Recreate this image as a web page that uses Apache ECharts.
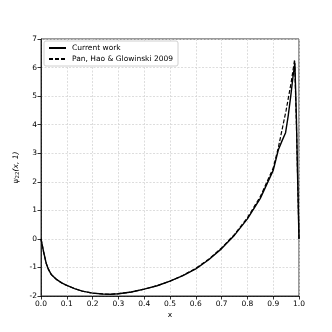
<!DOCTYPE html>
<html><head><meta charset="utf-8">
<script src="https://cdn.jsdelivr.net/npm/echarts@6/dist/echarts.min.js"></script>
<style>html,body{margin:0;padding:0;background:#fff}#c{width:332px;height:332px}</style>
</head><body><div id="c"></div>
<script>
const xCurrent = [0, 0.01, 0.02, 0.028, 0.04, 0.06, 0.08, 0.1, 0.13, 0.16, 0.2, 0.24, 0.27, 0.3, 0.35, 0.4, 0.45, 0.5, 0.55, 0.6, 0.65, 0.7, 0.75, 0.8, 0.85, 0.9, 0.92, 0.935, 0.948, 0.958, 0.968, 0.977, 0.984, 0.99, 0.995, 1.0];
const yCurrent = [0, -0.45, -0.85, -1.05, -1.25, -1.42, -1.54, -1.63, -1.74, -1.83, -1.9, -1.93, -1.94, -1.92, -1.86, -1.76, -1.64, -1.48, -1.29, -1.05, -0.73, -0.34, 0.13, 0.7, 1.42, 2.4, 3.12, 3.45, 3.72, 4.3, 5.0, 5.7, 6.15, 4.2, 2.0, 0];
const xPan = [0, 0.01, 0.02, 0.028, 0.04, 0.06, 0.08, 0.1, 0.13, 0.16, 0.2, 0.24, 0.27, 0.3, 0.35, 0.4, 0.45, 0.5, 0.55, 0.6, 0.65, 0.7, 0.75, 0.8, 0.85, 0.9, 0.92, 0.95, 0.97, 0.983, 0.99, 0.995, 1.0];
const yPan = [0, -0.45, -0.85, -1.05, -1.25, -1.42, -1.54, -1.63, -1.74, -1.83, -1.9, -1.93, -1.94, -1.92, -1.86, -1.76, -1.64, -1.48, -1.28, -1.03, -0.71, -0.32, 0.16, 0.74, 1.48, 2.48, 3.2, 4.5, 5.5, 6.28, 4.0, 2.0, 0];
const seriesNames = ['Current work', 'Pan, Hao & Glowinski 2009'];
const xTicks = {min: 0, max: 1, interval: 0.1};
const yTicks = {min: -2, max: 7, interval: 1};

const font = 'DejaVu Sans';
const chart = echarts.init(document.getElementById('c'), null, {renderer: 'canvas'});
const axisCommon = {
  axisLine: {show: true, onZero: false, lineStyle: {color: '#000', width: 0.8}},
  axisTick: {show: true, inside: false, length: 3.5, lineStyle: {color: '#000', width: 0.8}},
  splitLine: {show: true, lineStyle: {color: '#d4d4d4', width: 0.8, type: [2, 1.5]}},
  axisLabel: {color: '#000', fontFamily: font, fontSize: 7.5}
};
chart.setOption({
  animation: false,
  backgroundColor: '#fff',
  grid: {left: 41, right: 33, top: 39, bottom: 36, show: true, borderColor: '#000', borderWidth: 0.8, backgroundColor: 'transparent'},
  legend: {
    orient: 'vertical', left: 44, top: 41, itemWidth: 17, itemHeight: 8, itemGap: 3,
    backgroundColor: '#fff', borderColor: '#d0d0d0', borderWidth: 1, borderRadius: 2,
    padding: [3, 5, 3, 4],
    itemStyle: {opacity: 0},
    textStyle: {fontFamily: font, fontSize: 7.5, color: '#000', padding: [0, 0, 0, 1]},
    data: seriesNames
  },
  xAxis: Object.assign({}, axisCommon, {
    type: 'value', min: xTicks.min, max: xTicks.max, interval: xTicks.interval,
    name: 'x', nameLocation: 'middle', nameGap: 15, nameMoveOverlap: false,
    nameTextStyle: {fontFamily: font, fontSize: 7.5, color: '#000'},
    axisLabel: Object.assign({}, axisCommon.axisLabel, {margin: 4, formatter: v => v.toFixed(1)})
  }),
  yAxis: Object.assign({}, axisCommon, {
    type: 'value', min: yTicks.min, max: yTicks.max, interval: yTicks.interval,
    name: '{a|ψ}{s|22}{a|(x, 1)}', nameLocation: 'middle', nameGap: 20, nameRotate: 90, nameMoveOverlap: false,
    nameTextStyle: {fontFamily: font, color: '#000', rich: {
      a: {fontFamily: font, fontSize: 7.5, fontStyle: 'italic', color: '#000'},
      s: {fontFamily: font, fontSize: 5.5, color: '#000', padding: [4, 0, 0, 0]}
    }},
    axisLabel: Object.assign({}, axisCommon.axisLabel, {margin: 4})
  }),
  series: [
    {name: seriesNames[0], type: 'line', showSymbol: false, symbol: 'none',
     data: xCurrent.map((x, i) => [x, yCurrent[i]]),
     lineStyle: {color: '#000', width: 1.4}, itemStyle: {color: '#000'}, z: 3},
    {name: seriesNames[1], type: 'line', showSymbol: false, symbol: 'none',
     data: xPan.map((x, i) => [x, yPan[i]]),
     lineStyle: {color: '#000', width: 1.2, type: [4, 2]}, itemStyle: {color: '#000'}, z: 2}
  ]
});
</script></body></html>
